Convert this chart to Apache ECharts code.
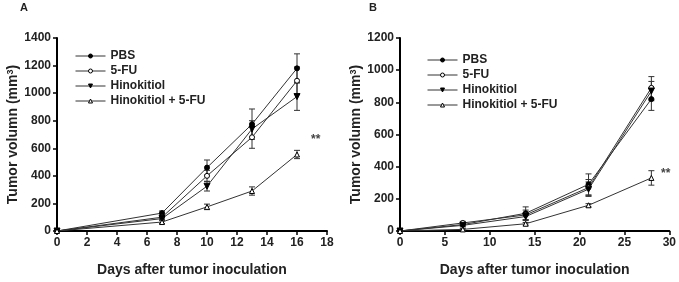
<!DOCTYPE html>
<html>
<head>
<meta charset="utf-8">
<script src="https://cdn.jsdelivr.net/npm/echarts@6/dist/echarts.min.js"></script>
<style>
html,body{margin:0;padding:0;background:#fff;}
#main{width:679px;height:282px;}
</style>
</head>
<body>
<div id="main"></div>
<script>
// panel A
var daysA = [0, 7, 10, 13, 16];
var pbsA = [0, 130, 460, 775, 1180];
var pbsErrA = [0, 15, 55, 110, 105];
var fuA = [0, 100, 400, 680, 1090];
var fuErrA = [0, 15, 40, 80, 100];
var hinoA = [0, 90, 325, 740, 975];
var hinoErrA = [0, 10, 35, 60, 100];
var comboA = [0, 65, 175, 290, 555];
var comboErrA = [0, 10, 20, 30, 30];
// panel B
var daysB = [0, 7, 14, 21, 28];
var pbsB = [0, 40, 110, 290, 820];
var pbsErrB = [0, 10, 40, 65, 70];
var fuB = [0, 50, 100, 270, 890];
var fuErrB = [0, 10, 30, 50, 70];
var hinoB = [0, 35, 90, 260, 870];
var hinoErrB = [0, 10, 25, 45, 60];
var comboB = [0, 10, 45, 160, 330];
var comboErrB = [0, 5, 8, 10, 45];

var names = ['PBS', '5-FU', 'Hinokitiol', 'Hinokitiol + 5-FU'];
var lineColor = '#333';
var font = 'Liberation Sans, Arial, sans-serif';

var myChart = echarts.init(document.getElementById('main'));

function pts(xs, ys) {
    var arr = [];
    for (var i = 0; i < xs.length; i++) arr.push([xs[i], ys[i]]);
    return arr;
}
function errData(xs, ys, es) {
    var arr = [];
    for (var i = 0; i < xs.length; i++) {
        if (es[i] > 0) arr.push([xs[i], ys[i] - es[i], ys[i] + es[i]]);
    }
    return arr;
}
function errSeries(idx, xs, ys, es) {
    return {
        type: 'custom',
        xAxisIndex: idx, yAxisIndex: idx,
        silent: true, z: 1,
        data: errData(xs, ys, es),
        renderItem: function (params, api) {
            var lo = api.coord([api.value(0), api.value(1)]);
            var hi = api.coord([api.value(0), api.value(2)]);
            var w = 3;
            var st = {stroke: lineColor, lineWidth: 1};
            return {
                type: 'group',
                children: [
                    {type: 'line', shape: {x1: lo[0], y1: lo[1], x2: hi[0], y2: hi[1]}, style: st},
                    {type: 'line', shape: {x1: lo[0] - w, y1: lo[1], x2: lo[0] + w, y2: lo[1]}, style: st},
                    {type: 'line', shape: {x1: hi[0] - w, y1: hi[1], x2: hi[0] + w, y2: hi[1]}, style: st}
                ]
            };
        }
    };
}
var markers = [
    {symbol: 'circle', size: 5, fill: '#000', rotate: 0},
    {symbol: 'circle', size: 5, fill: '#fff', rotate: 0},
    {symbol: 'triangle', size: 6, fill: '#000', rotate: 180},
    {symbol: 'triangle', size: 5, fill: '#fff', rotate: 0}
];
function lineSeries(idx, k, xs, ys) {
    var m = markers[k];
    return {
        name: names[k],
        type: 'line',
        xAxisIndex: idx, yAxisIndex: idx,
        data: pts(xs, ys),
        symbol: m.symbol, symbolSize: m.size, symbolRotate: m.rotate,
        showAllSymbol: true, z: 3,
        lineStyle: {color: lineColor, width: 1},
        itemStyle: {color: m.fill, borderColor: '#000', borderWidth: 1}
    };
}
function xAxis(idx, max, interval) {
    return {
        type: 'value', gridIndex: idx, min: 0, max: max, interval: interval,
        name: 'Days after tumor inoculation', nameLocation: 'middle', nameGap: 32,
        nameTextStyle: {fontFamily: font, fontWeight: 'bold', fontSize: 14, color: '#222'},
        axisLine: {lineStyle: {color: '#000', width: 2}},
        axisTick: {show: true, length: 4, lineStyle: {color: '#000', width: 1.5}},
        axisLabel: {fontFamily: font, fontWeight: 'bold', fontSize: 12, color: '#222', margin: 6},
        splitLine: {show: false}
    };
}
function yAxis(idx, max) {
    return {
        type: 'value', gridIndex: idx, min: 0, max: max, interval: 200,
        name: '{a|Tumor volumn (mm}{s|3}{a|)}', nameLocation: 'middle', nameGap: 35,
        nameTextStyle: {
            rich: {
                a: {fontFamily: font, fontWeight: 'bold', fontSize: 14, color: '#222'},
                s: {fontFamily: font, fontWeight: 'bold', fontSize: 9, color: '#222', verticalAlign: 'top', padding: [0, 0, 6, 0]}
            }
        },
        axisLine: {show: true, lineStyle: {color: '#000', width: 2}},
        axisTick: {show: true, length: 4, lineStyle: {color: '#000', width: 1.5}},
        axisLabel: {fontFamily: font, fontWeight: 'bold', fontSize: 12, color: '#222', margin: 6,
            formatter: function (v) { return String(v); }},
        splitLine: {show: false}
    };
}
function legend(left, top) {
    return {
        data: names, orient: 'vertical', left: left, top: top,
        itemWidth: 30, itemHeight: 5, itemGap: 3,
        itemStyle: {borderWidth: 1},
        lineStyle: {width: 1},
        textStyle: {fontFamily: font, fontWeight: 'bold', fontSize: 12, color: '#222'},
        selectedMode: false
    };
}

var option = {
    animation: false,
    backgroundColor: '#fff',
    grid: [
        {left: 57, top: 38, width: 270, height: 193},
        {left: 400, top: 38, width: 271, height: 193}
    ],
    xAxis: [xAxis(0, 18, 2), xAxis(1, 30, 5)],
    yAxis: [yAxis(0, 1400), yAxis(1, 1200)],
    legend: [legend(70, 45), legend(422, 49)],
    graphic: [
        {type: 'text', left: 20, top: 2, style: {text: 'A', font: 'bold 11px ' + font, fill: '#222'}},
        {type: 'text', left: 369, top: 2, style: {text: 'B', font: 'bold 11px ' + font, fill: '#222'}},
        {type: 'text', left: 311, top: 134, style: {text: '**', font: 'bold 12px ' + font, fill: '#444'}},
        {type: 'text', left: 661, top: 168, style: {text: '**', font: 'bold 12px ' + font, fill: '#444'}}
    ],
    series: [
        errSeries(0, daysA, pbsA, pbsErrA),
        errSeries(0, daysA, fuA, fuErrA),
        errSeries(0, daysA, hinoA, hinoErrA),
        errSeries(0, daysA, comboA, comboErrA),
        lineSeries(0, 0, daysA, pbsA),
        lineSeries(0, 1, daysA, fuA),
        lineSeries(0, 2, daysA, hinoA),
        lineSeries(0, 3, daysA, comboA),
        errSeries(1, daysB, pbsB, pbsErrB),
        errSeries(1, daysB, fuB, fuErrB),
        errSeries(1, daysB, hinoB, hinoErrB),
        errSeries(1, daysB, comboB, comboErrB),
        lineSeries(1, 0, daysB, pbsB),
        lineSeries(1, 1, daysB, fuB),
        lineSeries(1, 2, daysB, hinoB),
        lineSeries(1, 3, daysB, comboB)
    ]
};
myChart.setOption(option);
</script>
</body>
</html>
